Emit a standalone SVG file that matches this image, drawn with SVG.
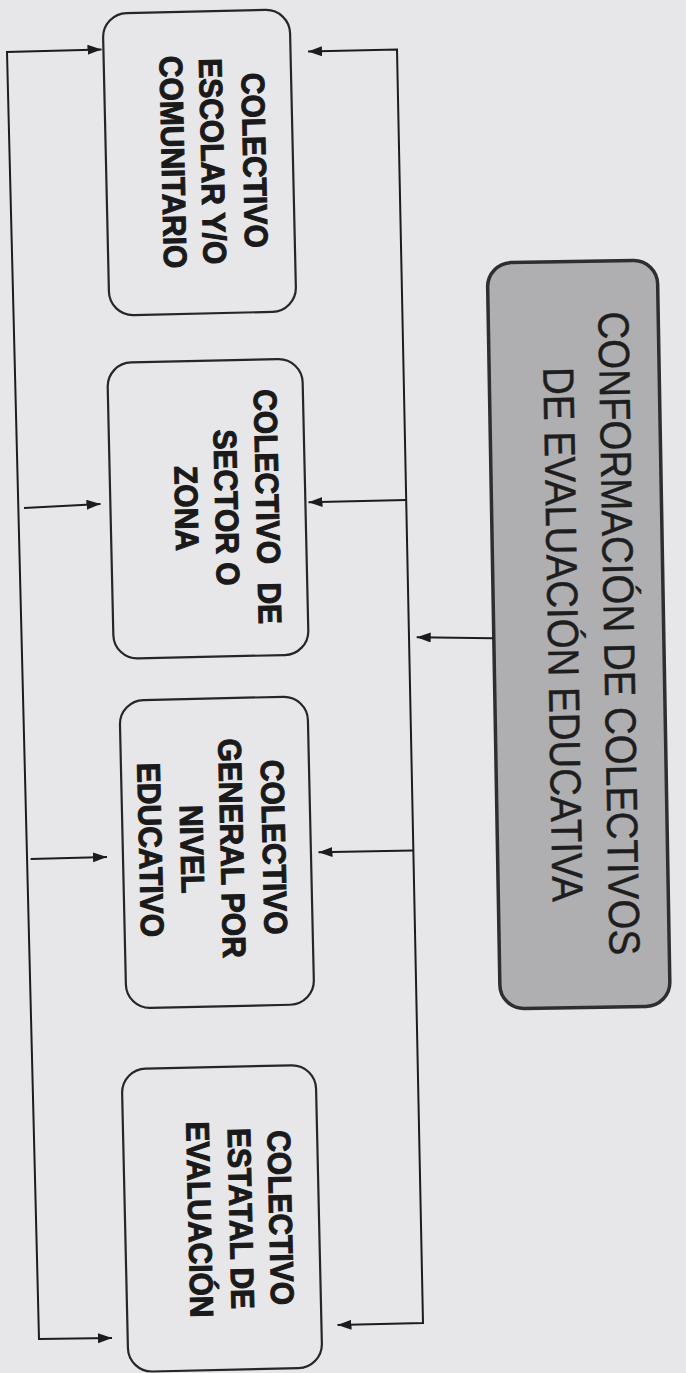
<svg xmlns="http://www.w3.org/2000/svg" width="686" height="1373" viewBox="0 0 686 1373">
  <style>
    .bg { fill: #e7e7e9; }
    .box { fill: none; stroke: #262626; stroke-width: 2.2; }
    .main { fill: #afafb1; stroke: #2e2e2e; stroke-width: 3.5; }
    .bt { font-family: "Liberation Sans", Arial, sans-serif; font-weight: bold; font-size: 30px; fill: #1a1a1a; stroke: #1a1a1a; stroke-width: 1; text-anchor: middle; }
    .mt { font-family: "Liberation Sans", Arial, sans-serif; font-size: 38.5px; fill: #1e1e1e; stroke: #1e1e1e; stroke-width: 0.4; text-anchor: middle; }
    .ln { fill: none; stroke: #1c1c1c; stroke-width: 2; }
  </style>
  <defs>
    <marker id="ah" markerWidth="15" markerHeight="11" refX="14" refY="5" orient="auto-start-reverse" markerUnits="userSpaceOnUse">
      <path d="M0,0 L14,5 L0,10 z" fill="#1c1c1c"/>
    </marker>
  </defs>
  <rect class="bg" x="0" y="0" width="686" height="1373"/>

  <g id="box-escolar" transform="rotate(-1.3 199.5 162.5)">
    <rect class="box" x="106" y="11.5" width="187" height="302" rx="24"/>
    <text class="bt" transform="translate(243.4 161.5) rotate(90) scale(1 1.08)">COLECTIVO</text>
    <text class="bt" transform="translate(201.4 161.5) rotate(90) scale(1 1.08)">ESCOLAR Y/O</text>
    <text class="bt" transform="translate(161.9 161.5) rotate(90) scale(1 1.08)">COMUNITARIO</text>
  </g>

  <g id="box-sector" transform="rotate(-1.3 208 508.75)">
    <rect class="box" x="110.5" y="360.75" width="195" height="296" rx="24"/>
    <text class="bt" word-spacing="10" transform="translate(256.4 508) rotate(90) scale(1 1.08)">COLECTIVO DE</text>
    <text class="bt" transform="translate(215.4 508) rotate(90) scale(1 1.08)">SECTOR O</text>
    <text class="bt" transform="translate(175.4 508) rotate(90) scale(1 1.08)">ZONA</text>
  </g>

  <g id="box-general" transform="rotate(-1.3 216.9 852.4)">
    <rect class="box" x="122.9" y="698.4" width="188" height="308" rx="24"/>
    <text class="bt" transform="translate(262.9 848.5) rotate(90) scale(1 1.08)">COLECTIVO</text>
    <text class="bt" transform="translate(220.9 848.5) rotate(90) scale(1 1.08)">GENERAL POR</text>
    <text class="bt" transform="translate(180.9 848.5) rotate(90) scale(1 1.08)">NIVEL</text>
    <text class="bt" transform="translate(139.4 848.5) rotate(90) scale(1 1.08)">EDUCATIVO</text>
  </g>

  <g id="box-estatal" transform="rotate(-1.3 222 1218.4)">
    <rect class="box" x="125" y="1066.9" width="194" height="303" rx="24"/>
    <text class="bt" transform="translate(269.4 1219) rotate(90) scale(1 1.08)">COLECTIVO</text>
    <text class="bt" transform="translate(229.7 1219) rotate(90) scale(1 1.08)">ESTATAL DE</text>
    <text class="bt" transform="translate(188.4 1219) rotate(90) scale(1 1.08)">EVALUACIÓN</text>
  </g>

  <g id="box-main" transform="rotate(-1 578.75 634.5)">
    <rect class="main" x="493.75" y="261.5" width="170" height="746" rx="24"/>
    <text class="mt" transform="translate(604 634) rotate(90) scale(1 1.13)">CONFORMACIÓN DE COLECTIVOS</text>
    <text class="mt" transform="translate(548 634) rotate(90) scale(1 1.13)">DE EVALUACIÓN EDUCATIVA</text>
  </g>

  <g id="connectors">
    <path class="ln" d="M101.5,49.5 L7,52 L39,1339 L112,1338" marker-start="url(#ah)" marker-end="url(#ah)"/>
    <path class="ln" d="M24,508 L100.5,504" marker-end="url(#ah)"/>
    <path class="ln" d="M30.6,859 L107,857" marker-end="url(#ah)"/>
    <path class="ln" d="M308,51.5 L397,49.5 L423,1323 L337.5,1325" marker-start="url(#ah)" marker-end="url(#ah)"/>
    <path class="ln" d="M406,500 L308.5,502.3" marker-end="url(#ah)"/>
    <path class="ln" d="M413,850.5 L318.5,852.3" marker-end="url(#ah)"/>
    <path class="ln" d="M493,638.3 L416.7,637.3" marker-end="url(#ah)"/>
  </g>
</svg>
